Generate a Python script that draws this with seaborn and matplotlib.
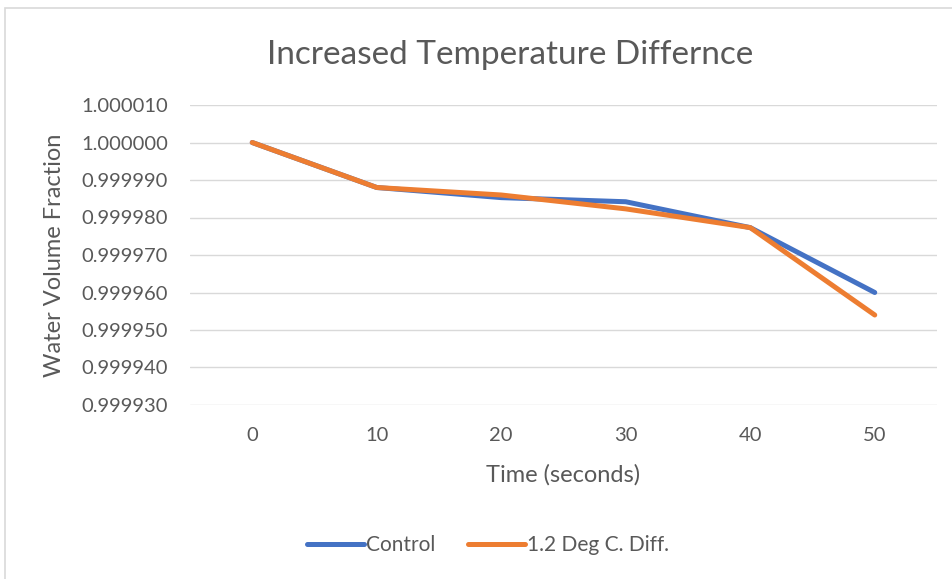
import matplotlib
matplotlib.use("Agg")
import matplotlib.pyplot as plt
import seaborn as sns
import pandas as pd
from matplotlib.lines import Line2D
from matplotlib.patches import Rectangle
from matplotlib.ticker import FixedLocator, FuncFormatter

time_s = [0, 10, 20, 30, 40, 50]
control = [1.000000, 0.999988, 0.9999853, 0.9999842, 0.9999773, 0.999960]
diff_12 = [1.000000, 0.999988, 0.999986, 0.9999823, 0.9999773, 0.999954]
series_names = ["Control", "1.2 Deg C. Diff."]
y_ticks = [0.999930, 0.999940, 0.999950, 0.999960, 0.999970, 0.999980,
           0.999990, 1.000000, 1.000010]

df = pd.DataFrame({
    "Time": time_s * 2,
    "Value": control + diff_12,
    "Series": [series_names[0]] * len(time_s) + [series_names[1]] * len(time_s),
})

sns.set_theme(style="white")
plt.rcParams["font.family"] = ["Lato", "DejaVu Sans"]

GREY = "#595959"
palette = {series_names[0]: "#4472C4", series_names[1]: "#ED7D31"}

fig = plt.figure(figsize=(9.53, 5.79), dpi=100)
ax = fig.add_axes([190 / 953, 1 - 405 / 579, (937 - 190) / 953, (405 - 105) / 579])

sns.lineplot(data=df, x="Time", y="Value", hue="Series", palette=palette,
             linewidth=3.6, ax=ax, legend=False, sort=False,
             solid_capstyle="round", solid_joinstyle="round")

ax.set_xlim(-5, 55)
ax.set_ylim(y_ticks[0], y_ticks[-1])
ax.yaxis.set_major_locator(FixedLocator(y_ticks))
ax.yaxis.set_major_formatter(FuncFormatter(lambda v, p: f"{v:.6f}"))
ax.set_xticks(time_s)
ax.set_xticklabels([str(t) for t in time_s])
ax.grid(axis="y", color="#D9D9D9", linewidth=1.0)
ax.grid(axis="x", visible=False)
ax.set_axisbelow(True)
for s in ax.spines.values():
    s.set_visible(False)
ax.tick_params(axis="both", length=0, labelsize=14.5, labelcolor=GREY)
ax.tick_params(axis="y", pad=16)
ax.tick_params(axis="x", pad=16)
ax.set_xlabel("")
ax.set_ylabel("")

fig.text(563 / 953, 1 - 475 / 579, "Time (seconds)", ha="center", va="center",
         fontsize=17, color=GREY)
fig.text(55 / 953, 1 - 255 / 579, "Water Volume Fraction", ha="center", va="center",
         rotation=90, fontsize=17, color=GREY)
fig.text(510 / 953, 1 - 55 / 579, "Increased Temperature Differnce", ha="center",
         va="center", fontsize=24, color=GREY)

handles = [Line2D([0], [0], color=palette[n], linewidth=3.6, solid_capstyle="round")
           for n in series_names]
fig.legend(handles, series_names, loc="center", bbox_to_anchor=(488 / 953, 1 - 545 / 579),
           ncol=2, frameon=False, fontsize=15, labelcolor=GREY, handlelength=2.7,
           handletextpad=0.1, columnspacing=1.6)

fig.patches.append(Rectangle((4.5 / 953, -0.1), 1.2, (1 - 7.5 / 579) + 0.1,
                             transform=fig.transFigure, fill=False,
                             edgecolor="#D9D9D9", linewidth=1.2, figure=fig))

fig.savefig("out.png", dpi=100)
